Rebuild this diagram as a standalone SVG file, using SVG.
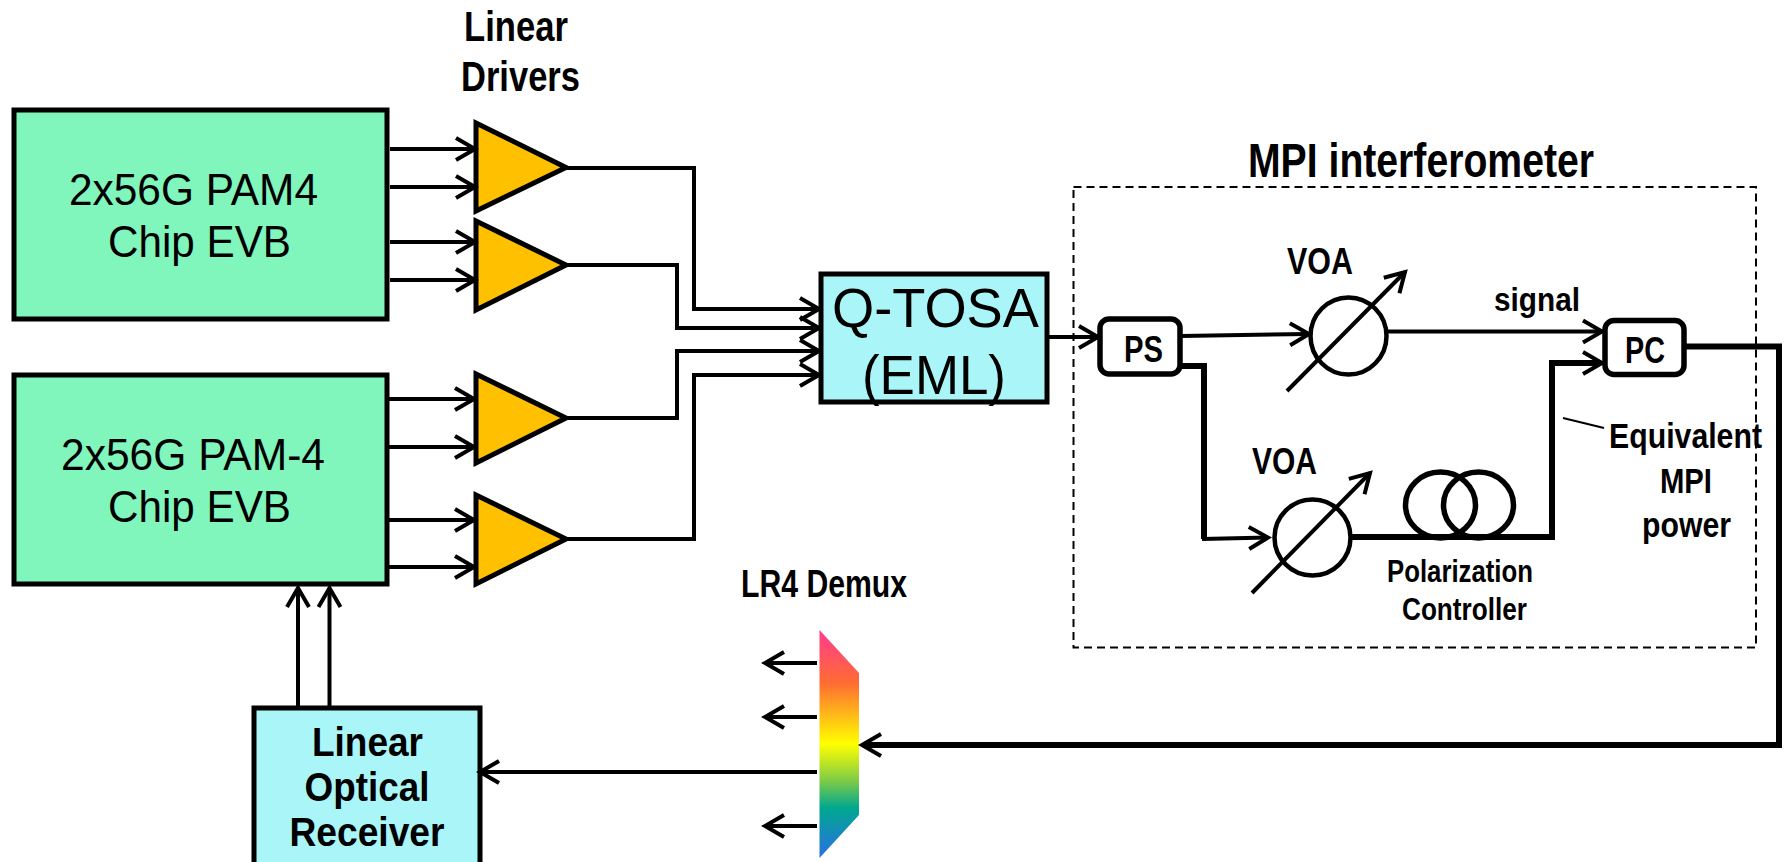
<svg xmlns="http://www.w3.org/2000/svg" width="1786" height="862" viewBox="0 0 1786 862">
<style>
text{font-family:"Liberation Sans",Arial,sans-serif;fill:#000}
.b{font-weight:700}
.box{stroke:#000;stroke-width:5;stroke-linejoin:miter}
.g{fill:#80F5BC}.c{fill:#A9F5F8}
.amp{fill:#FFC000;stroke:#000;stroke-width:5;stroke-linejoin:miter}
.w{fill:none;stroke:#000;stroke-width:4;stroke-linejoin:miter}
.t{fill:none;stroke:#000;stroke-width:6;stroke-linejoin:miter}
.a{marker-end:url(#ah)}
.ring{fill:#fff;stroke:#000;stroke-width:4.500}
.coil{fill:none;stroke:#000;stroke-width:5.500}
.sq{fill:#fff;stroke:#000;stroke-width:5.500}
</style>
<defs>
<marker id="ah" markerUnits="userSpaceOnUse" markerWidth="26" markerHeight="30" refX="23" refY="15" orient="auto" overflow="visible">
<path d="M4 4L23 15L4 26" fill="none" stroke="#000" stroke-width="4"/>
</marker>
<linearGradient id="rb" x1="0" y1="0" x2="0" y2="1">
<stop offset="0" stop-color="#FF3B8F"/>
<stop offset="0.23" stop-color="#FF6B33"/>
<stop offset="0.5" stop-color="#FFFF00"/>
<stop offset="0.66" stop-color="#7FCB45"/>
<stop offset="0.78" stop-color="#00A88F"/>
<stop offset="1" stop-color="#2A6FE5"/>
</linearGradient>
</defs>

<g id="mpi-frame">
<rect x="1073.500" y="187" width="682.500" height="460.500" fill="none" stroke="#000" stroke-width="2" stroke-dasharray="8 5"/>
</g>

<g id="evb1"><rect class="box g" x="14" y="110" width="373" height="209"/>
<text x="69" y="205" font-size="44" textLength="249" lengthAdjust="spacingAndGlyphs">2x56G PAM4</text>
<text x="108" y="257" font-size="44" textLength="183" lengthAdjust="spacingAndGlyphs">Chip EVB</text></g>
<g id="evb2"><rect class="box g" x="14" y="375" width="373" height="209"/>
<text x="61" y="470" font-size="44" textLength="264" lengthAdjust="spacingAndGlyphs">2x56G PAM-4</text>
<text x="108" y="522" font-size="44" textLength="183" lengthAdjust="spacingAndGlyphs">Chip EVB</text></g>

<g id="drivers-label">
<text class="b" x="464" y="41" font-size="43" textLength="104" lengthAdjust="spacingAndGlyphs">Linear</text>
<text class="b" x="461" y="91" font-size="43" textLength="119" lengthAdjust="spacingAndGlyphs">Drivers</text></g>

<g id="amp1"><polygon class="amp" points="476,123 566,167.500 476,211"/></g>
<g id="amp2"><polygon class="amp" points="476,221 566,265 476,310"/></g>
<g id="amp3"><polygon class="amp" points="476,374 566,418 476,463"/></g>
<g id="amp4"><polygon class="amp" points="476,495 566,539 476,584"/></g>

<g id="qtosa"><rect class="box c" x="821" y="274" width="226" height="128"/>
<text x="832" y="327" font-size="55" textLength="207" lengthAdjust="spacingAndGlyphs">Q-TOSA</text>
<text x="862" y="394" font-size="55" textLength="144" lengthAdjust="spacingAndGlyphs">(EML)</text></g>

<g id="ps"><rect class="sq" x="1100" y="319" width="80" height="55" rx="9"/>
<text class="b" x="1124" y="362" font-size="36" textLength="39" lengthAdjust="spacingAndGlyphs">PS</text></g>
<g id="pc"><rect class="sq" x="1605" y="320.500" width="79" height="54" rx="9"/>
<text class="b" x="1625" y="363" font-size="36" textLength="40" lengthAdjust="spacingAndGlyphs">PC</text></g>

<g id="voa1"><ellipse class="ring" cx="1348.500" cy="336" rx="38" ry="38.500"/>
<text class="b" x="1287" y="274" font-size="36" textLength="66" lengthAdjust="spacingAndGlyphs">VOA</text></g>
<g id="voa2"><ellipse class="ring" cx="1312.500" cy="537.500" rx="38" ry="38"/>
<text class="b" x="1252" y="474" font-size="36" textLength="65" lengthAdjust="spacingAndGlyphs">VOA</text></g>

<g id="polarization-controller">
<ellipse class="coil" cx="1440.500" cy="505" rx="35" ry="33"/>
<ellipse class="coil" cx="1478.500" cy="505" rx="35" ry="33"/>
<text class="b" x="1387" y="582" font-size="31" textLength="146" lengthAdjust="spacingAndGlyphs">Polarization</text>
<text class="b" x="1402" y="620" font-size="31" textLength="125" lengthAdjust="spacingAndGlyphs">Controller</text></g>

<g id="demux">
<polygon points="819.500,630 859,673 859,815 819.500,858" fill="url(#rb)"/>
<text class="b" x="741" y="597" font-size="38" textLength="166" lengthAdjust="spacingAndGlyphs">LR4 Demux</text></g>

<g id="receiver"><rect class="box c" x="254" y="708" width="226" height="170"/>
<text class="b" x="312" y="756" font-size="40" textLength="111" lengthAdjust="spacingAndGlyphs">Linear</text>
<text class="b" x="304.500" y="801" font-size="40" textLength="125" lengthAdjust="spacingAndGlyphs">Optical</text>
<text class="b" x="289.500" y="846" font-size="40" textLength="155" lengthAdjust="spacingAndGlyphs">Receiver</text></g>

<g id="mpi-labels">
<text class="b" x="1248" y="177" font-size="48" textLength="346" lengthAdjust="spacingAndGlyphs">MPI interferometer</text>
<text class="b" x="1494" y="311" font-size="34" textLength="86" lengthAdjust="spacingAndGlyphs">signal</text>
<text class="b" x="1609" y="448" font-size="35" textLength="153" lengthAdjust="spacingAndGlyphs">Equivalent</text>
<text class="b" x="1660" y="493" font-size="35" textLength="52" lengthAdjust="spacingAndGlyphs">MPI</text>
<text class="b" x="1642" y="537" font-size="35" textLength="89" lengthAdjust="spacingAndGlyphs">power</text>
</g>

<g id="connectors">
<path class="w a" d="M390 149H475"/><path class="w a" d="M390 187H475"/>
<path class="w a" d="M390 242H475"/><path class="w a" d="M390 280H475"/>
<path class="w a" d="M388 399H474"/><path class="w a" d="M388 447H474"/>
<path class="w a" d="M388 520H474"/><path class="w a" d="M388 567H474"/>
<path class="w a" d="M567 168H694V309H819"/>
<path class="w a" d="M567 265H677V328H819"/>
<path class="w a" d="M567 418H677V351H819"/>
<path class="w a" d="M567 539H694V375H819"/>
<path class="w a" d="M1047 337H1098"/>
<path class="w a" d="M1181 336L1309 334"/>
<path class="w a" d="M1387 331.500H1602"/>
<path class="t" d="M1181 366H1204V539"/><path class="w a" d="M1202 539L1268 537.500"/>
<path class="w a" d="M1287 391L1405 272"/>
<path class="w a" d="M1252 593L1370 473"/>
<path class="t" d="M1351 537H1552V363H1597"/><path class="w a" d="M1570 363H1602"/>
<path class="w" style="stroke-width:2" d="M1563 418L1604 428"/>
<path class="t" d="M1686 346.500H1779V745H866"/><path class="w a" d="M890 745H862"/>
<path class="w a" d="M817 663H765"/><path class="w a" d="M817 717H765"/><path class="w a" d="M817 826H765"/>
<path class="w a" d="M817 772H480"/>
<path class="w a" d="M298 708V588"/><path class="w a" d="M329.500 708V588"/>
</g>
</svg>
